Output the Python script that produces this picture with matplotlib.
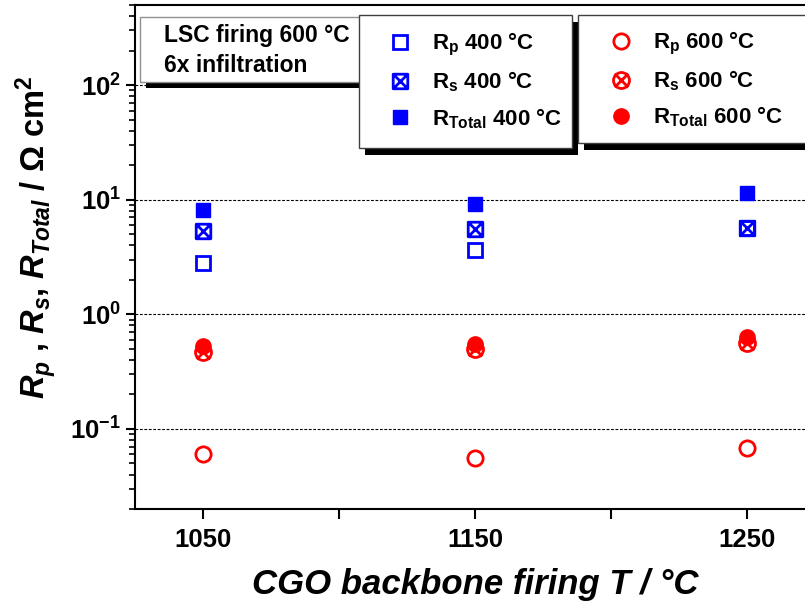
import numpy as np
import matplotlib
matplotlib.use("Agg")
import matplotlib.pyplot as plt
from matplotlib.path import Path
from matplotlib.patches import Rectangle

plt.rcParams['font.family'] = ['Liberation Sans', 'DejaVu Sans']
plt.rcParams['font.weight'] = 'bold'
plt.rcParams['mathtext.fontset'] = 'custom'
plt.rcParams['mathtext.rm'] = 'Liberation Sans:bold'
plt.rcParams['mathtext.it'] = 'Liberation Sans:italic:bold'
plt.rcParams['mathtext.bf'] = 'Liberation Sans:bold'
plt.rcParams['mathtext.sf'] = 'Liberation Sans:bold'

# ---- data ----
cgo_T = [1050, 1150, 1250]
rp_400 = [2.82, 3.64, 5.70]
rs_400 = [5.30, 5.55, 5.69]
rtot_400 = [8.10, 9.20, 11.4]
rp_600 = [0.0607, 0.0556, 0.0684]
rs_600 = [0.469, 0.494, 0.565]
rtot_600 = [0.530, 0.550, 0.630]
xtick_vals = [1050, 1150, 1250]
xminor_vals = [1100, 1200]
labels_400 = [r'R$_{\rm p}$ 400 °C', r'R$_{\rm s}$ 400 °C', r'R$_{\rm Total}$ 400 °C']
labels_600 = [r'R$_{\rm p}$ 600 °C', r'R$_{\rm s}$ 600 °C', r'R$_{\rm Total}$ 600 °C']
note_lines = ['LSC firing 600 °C', '6x infiltration']

W, H = 805, 608
fig = plt.figure(figsize=(W / 100, H / 100), dpi=100)

def fx(px):
    return px / W

def fy(py):
    return 1 - py / H

ax = fig.add_axes([fx(135), fy(509), 680 / W, 504 / H])

# custom crossed markers
sq = [(-1, -1), (1, -1), (1, 1), (-1, 1), (-1, -1), (-1, -1), (1, 1), (-1, 1), (1, -1)]
sq_codes = [Path.MOVETO, Path.LINETO, Path.LINETO, Path.LINETO, Path.CLOSEPOLY,
            Path.MOVETO, Path.LINETO, Path.MOVETO, Path.LINETO]
crossed_square = Path(sq, sq_codes)
circ = Path.unit_circle()
d = 0.85
xlines = Path([(-d, -d), (d, d), (-d, d), (d, -d)],
              [Path.MOVETO, Path.LINETO, Path.MOVETO, Path.LINETO])
crossed_circle = Path.make_compound_path(circ, xlines)

blue = '#0000ff'
red = '#ff0000'
mew = 2.0
h_rp4, = ax.plot(cgo_T, rp_400, ls='none', marker='s', ms=9.5, mfc='none', mec=blue, mew=mew, zorder=3)
h_rs4, = ax.plot(cgo_T, rs_400, ls='none', marker=crossed_square, ms=10.5, mfc='none', mec=blue, mew=mew, zorder=4)
h_rt4, = ax.plot(cgo_T, rtot_400, ls='none', marker='s', ms=10.5, mfc=blue, mec=blue, mew=1, zorder=4)
h_rp6, = ax.plot(cgo_T, rp_600, ls='none', marker='o', ms=11, mfc='none', mec=red, mew=mew, zorder=3)
h_rs6, = ax.plot(cgo_T, rs_600, ls='none', marker=crossed_circle, ms=11.5, mfc='none', mec=red, mew=mew, zorder=4)
h_rt6, = ax.plot(cgo_T, rtot_600, ls='none', marker='o', ms=11, mfc=red, mec=red, mew=1, zorder=3)

ax.set_yscale('log')
ax.set_ylim(0.02, 500)
ax.set_xlim(1025, 1275)
ax.set_xticks(xtick_vals)
ax.set_xticklabels([str(v) for v in xtick_vals])
ax.set_xticks(xminor_vals, minor=True)

ax.yaxis.set_major_locator(matplotlib.ticker.LogLocator(base=10, numticks=10))
ax.yaxis.set_minor_locator(matplotlib.ticker.LogLocator(base=10, subs=np.arange(2, 10), numticks=20))
ax.yaxis.set_minor_formatter(matplotlib.ticker.NullFormatter())
ax.yaxis.set_major_formatter(matplotlib.ticker.FuncFormatter(
    lambda v, p: r'$\mathbf{10^{%d}}$' % int(round(np.log10(v)))))

ax.grid(axis='y', which='major', color='black', ls=(0, (2.5, 1.5)), lw=0.8)
ax.spines['right'].set_visible(False)
for s in ['left', 'bottom', 'top']:
    ax.spines[s].set_linewidth(1.5)
ax.tick_params(axis='y', which='major', direction='out', length=6.5, width=1.5, pad=3.5, labelsize=18.5)
ax.tick_params(axis='y', which='minor', direction='out', length=4.3, width=1.2)
ax.tick_params(axis='x', which='both', direction='out', length=7, width=1.5, pad=7, labelsize=18.5)
for t in ax.get_xticklabels():
    t.set_fontweight('bold')

ax.set_xlabel('CGO backbone firing T / °C', fontsize=25, fontweight='bold', fontstyle='italic')
ax.xaxis.set_label_coords(0.5, -0.117)
ax.set_ylabel(r'$R_p$ , $R_s$, $R_{Total}$ / Ω cm$^2$', fontsize=23.5, fontweight='bold')
ax.yaxis.set_label_coords(-0.112, 0.54)

# boxes with shadows
def box(x0, y0, x1, y1, off, ec, z):
    fig.add_artist(Rectangle((fx(x0 + off[0]), fy(y1 + off[1])), fx(x1) - fx(x0), fy(y0) - fy(y1),
                             transform=fig.transFigure, facecolor='black', edgecolor='none', zorder=z))
    fig.add_artist(Rectangle((fx(x0), fy(y1)), fx(x1) - fx(x0), fy(y0) - fy(y1),
                             transform=fig.transFigure, facecolor='white', edgecolor=ec, lw=1, zorder=z + 0.1))

box(140, 17, 366, 82, (6, 6), '#909090', 2)
box(359, 15, 572, 148, (6, 7), '#404040', 3)
box(578, 15, 830, 143, (6, 7), '#404040', 4)

fig.text(fx(164), fy(42), note_lines[0], fontsize=16.5, fontweight='bold', va='baseline', zorder=10)
fig.text(fx(164), fy(72), note_lines[1], fontsize=16.5, fontweight='bold', va='baseline', zorder=10)

leg1 = fig.legend([h_rp4, h_rs4, h_rt4], labels_400, loc='upper left',
                  bbox_to_anchor=(fx(389), fy(31)), bbox_transform=fig.transFigure,
                  frameon=False, borderpad=0, borderaxespad=0, fontsize=16,
                  handlelength=1.0, handletextpad=0.95, labelspacing=0.53)
leg1.set_zorder(10)
leg2 = fig.legend([h_rp6, h_rs6, h_rt6], labels_600, loc='upper left',
                  bbox_to_anchor=(fx(610), fy(30)), bbox_transform=fig.transFigure,
                  frameon=False, borderpad=0, borderaxespad=0, fontsize=16,
                  handlelength=1.0, handletextpad=0.95, labelspacing=0.51)
leg2.set_zorder(10)

fig.savefig('out.png', dpi=100)
